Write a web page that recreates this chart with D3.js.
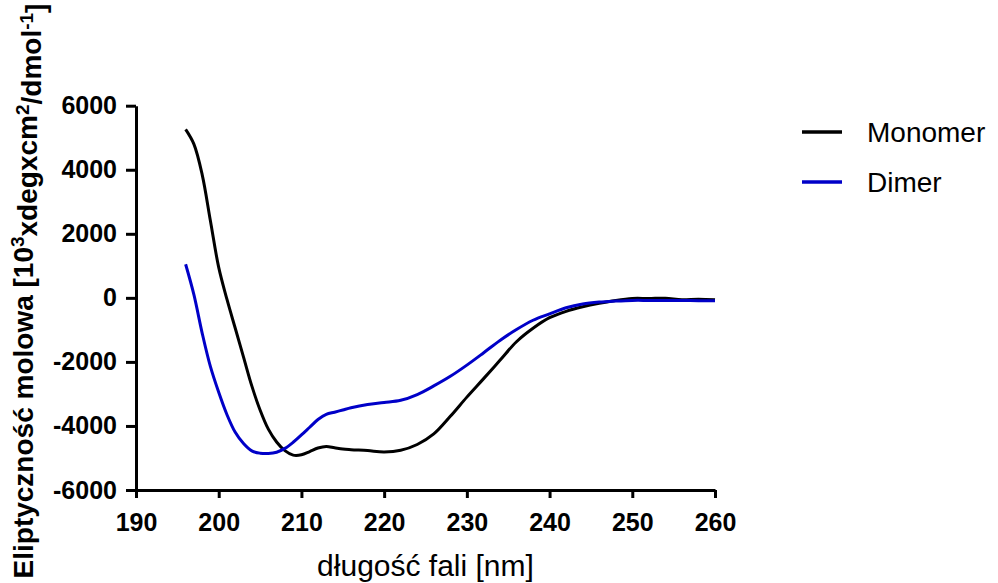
<!DOCTYPE html>
<html>
<head>
<meta charset="utf-8">
<script src="https://cdn.jsdelivr.net/npm/d3@7/dist/d3.min.js"></script>
<style>
  body { margin: 0; background: #fff; }
  svg { display: block; font-family: "Liberation Sans", Arial, sans-serif; }
</style>
</head>
<body>
<svg id="chart" width="998" height="583"></svg>
<script>
// CD spectra: monomer vs dimer

const monomerNm = [196, 197, 198, 199, 200, 201, 202, 203, 204, 205, 206, 207, 208, 209, 210,
  211, 212, 213, 214, 215, 216, 218, 220, 222, 224, 226, 228, 230, 232, 234, 236, 238, 240,
  242, 244, 246, 248, 250, 252, 254, 256, 258, 260];
const monomerVal = [5260, 4800, 3850, 2400, 950, -50, -950, -1850, -2750, -3500, -4100, -4500,
  -4770, -4910, -4900, -4800, -4690, -4640, -4680, -4720, -4740, -4770, -4810, -4760, -4580,
  -4250, -3700, -3100, -2530, -1950, -1370, -950, -620, -420, -280, -170, -80, -20, -20, -10,
  -60, -40, -60];

const dimerNm = [196, 197, 198, 199, 200, 201, 202, 203, 204, 205, 206, 207, 208, 209, 210,
  211, 212, 213, 214, 215, 216, 218, 220, 222, 224, 226, 228, 230, 232, 234, 236, 238, 240,
  242, 244, 246, 248, 250, 252, 254, 256, 258, 260];
const dimerVal = [1050, 100, -1100, -2150, -2950, -3650, -4200, -4550, -4780, -4850, -4860,
  -4820, -4700, -4510, -4280, -4040, -3800, -3640, -3570, -3500, -3430, -3330, -3270, -3200,
  -3020, -2750, -2450, -2100, -1720, -1330, -990, -700, -500, -310, -190, -130, -100, -80,
  -80, -80, -80, -90, -90];

const xTicks = [190, 200, 210, 220, 230, 240, 250, 260];
const yTicks = [-6000, -4000, -2000, 0, 2000, 4000, 6000];

const series = [
  { name: "Monomer", color: "#000000", nm: monomerNm, val: monomerVal },
  { name: "Dimer", color: "#0000c8", nm: dimerNm, val: dimerVal },
];

const svg = d3.select("#chart");

const x = d3.scaleLinear().domain([190, 260]).range([136, 715]);
const y = d3.scaleLinear().domain([-6000, 6000]).range([490, 105.7]);

// axes (plain hyphen for negatives, like the original)
const fmt = d => String(d);

const xAxis = svg.append("g")
  .attr("transform", `translate(0,${y(-6000)})`)
  .call(d3.axisBottom(x).tickValues(xTicks).tickFormat(fmt)
    .tickSizeInner(8).tickSizeOuter(0).tickPadding(15));

const yAxis = svg.append("g")
  .attr("transform", `translate(${x(190)},0)`)
  .call(d3.axisLeft(y).tickValues(yTicks).tickFormat(fmt)
    .tickSizeInner(10).tickSizeOuter(0).tickPadding(9));

[xAxis, yAxis].forEach(g => {
  g.select(".domain").attr("stroke", "#000").attr("stroke-width", 3);
  g.selectAll(".tick line").attr("stroke", "#000").attr("stroke-width", 3);
  g.selectAll(".tick text")
    .attr("fill", "#000")
    .style("font-size", "25px")
    .style("font-weight", "bold")
    .style("font-family", "'Liberation Sans', Arial, sans-serif");
});

// lines
const line = d3.line()
  .x(d => x(d[0]))
  .y(d => y(d[1]))
  .curve(d3.curveCatmullRom);

series.forEach(s => {
  svg.append("path")
    .datum(s.nm.map((n, i) => [n, s.val[i]]))
    .attr("fill", "none")
    .attr("stroke", s.color)
    .attr("stroke-width", 3)
    .attr("stroke-linejoin", "round")
    .attr("d", line);
});

// axis titles
svg.append("text")
  .attr("x", (x(190) + x(260)) / 2)
  .attr("y", 576)
  .attr("text-anchor", "middle")
  .style("font-size", "30px")
  .text("długość fali [nm]");

const yTitle = svg.append("text")
  .attr("transform", "translate(33,291) rotate(-90)")
  .attr("text-anchor", "middle")
  .style("font-size", "28px")
  .style("font-weight", "bold");
yTitle.append("tspan").text("Eliptyczność molowa [10");
yTitle.append("tspan").attr("dy", "-0.45em").style("font-size", "19px").text("3");
yTitle.append("tspan").attr("dy", "0.45em").text("xdegxcm");
yTitle.append("tspan").attr("dy", "-0.45em").style("font-size", "19px").text("2");
yTitle.append("tspan").attr("dy", "0.45em").text("/dmol");
yTitle.append("tspan").attr("dy", "-0.45em").style("font-size", "19px").text("-1");
yTitle.append("tspan").attr("dy", "0.45em").text("]");

// legend
const legend = svg.selectAll("g.legend")
  .data(series)
  .enter().append("g")
  .attr("class", "legend")
  .attr("transform", (d, i) => `translate(802,${132 + i * 50})`);

legend.append("line")
  .attr("x1", 0).attr("x2", 40)
  .attr("stroke", d => d.color)
  .attr("stroke-width", 3.5);

legend.append("text")
  .attr("x", 65)
  .attr("dy", "0.35em")
  .style("font-size", "28px")
  .text(d => d.name);
</script>
</body>
</html>
